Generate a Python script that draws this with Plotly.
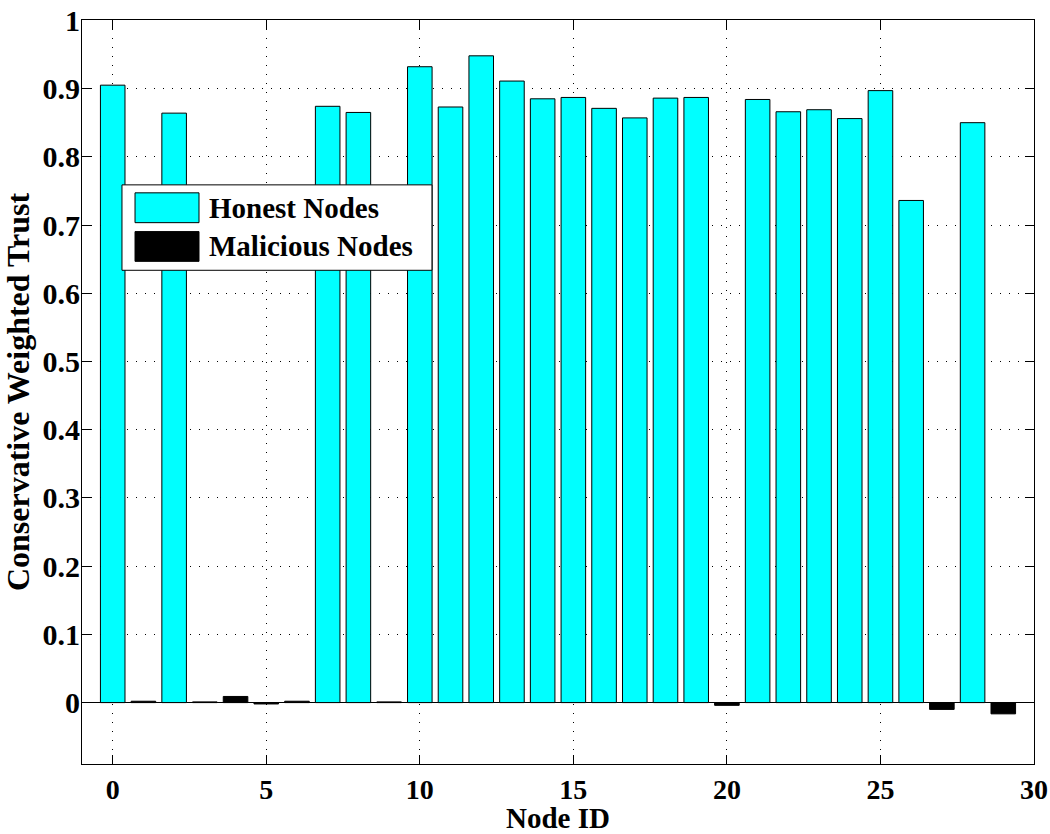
import plotly.graph_objects as go

# ---- data ----
honest_ids = [0, 2, 7, 8, 10, 11, 12, 13, 14, 15, 16, 17, 18, 19, 21, 22, 23, 24, 25, 26, 28]
honest_trust = [0.905, 0.864, 0.874, 0.865, 0.932, 0.873, 0.948, 0.911, 0.885, 0.887,
                0.871, 0.857, 0.886, 0.887, 0.884, 0.866, 0.869, 0.856, 0.897, 0.736, 0.850]
malicious_ids = [1, 3, 4, 5, 6, 9, 20, 27, 29]
malicious_trust = [0.002, 0.001, 0.009, -0.002, 0.002, 0.001, -0.004, -0.010, -0.0165]

x_ticks = [0, 5, 10, 15, 20, 25, 30]
y_ticks = [0, 0.1, 0.2, 0.3, 0.4, 0.5, 0.6, 0.7, 0.8, 0.9, 1.0]
y_ticktext = ["0", "0.1", "0.2", "0.3", "0.4", "0.5", "0.6", "0.7", "0.8", "0.9", "1"]
series_names = ["Honest Nodes", "Malicious Nodes"]
series_colors = ["#00FFFF", "#000000"]

FONT = "Liberation Serif, Times New Roman, serif"

fig = go.Figure()
fig.add_trace(go.Bar(x=honest_ids, y=honest_trust, name=series_names[0], width=0.8,
                     marker=dict(color=series_colors[0], line=dict(color="black", width=1)),
                     showlegend=False))
fig.add_trace(go.Bar(x=malicious_ids, y=malicious_trust, name=series_names[1], width=0.8,
                     marker=dict(color=series_colors[1], line=dict(color="black", width=1)),
                     showlegend=False))

axis_common = dict(
    showline=True, linecolor="black", linewidth=1, mirror="ticks",
    ticks="inside", ticklen=9, tickcolor="black", tickwidth=1,
    showgrid=True, gridcolor="black", gridwidth=1, griddash="1px,8px",
    automargin=False, ticklabeloverflow="allow",
)

fig.update_xaxes(range=[-1, 30], tickmode="array", tickvals=x_ticks,
                 tickfont=dict(family=FONT, size=28, color="black", weight="bold"),
                 title=dict(text="Node ID", standoff=4,
                            font=dict(family=FONT, size=29, color="black", weight="bold")),
                 zeroline=False, **axis_common)
fig.update_yaxes(range=[-0.09, 1.0005], tickmode="array", tickvals=y_ticks, ticktext=y_ticktext,
                 ticklabelstandoff=-5,
                 tickfont=dict(family=FONT, size=30, color="black", weight="bold"),
                 title=dict(text="Conservative Weighted Trust", standoff=4,
                            font=dict(family=FONT, size=32, color="black", weight="bold")),
                 zeroline=True, zerolinecolor="black", zerolinewidth=1, **axis_common)

# ---- legend box drawn in paper coordinates ----
lx0, lx1, ly0, ly1 = 0.042, 0.3676, 0.6636, 0.7784
fig.add_shape(type="rect", xref="paper", yref="paper", x0=lx0, x1=lx1, y0=ly0, y1=ly1,
              fillcolor="white", line=dict(color="black", width=1), layer="above")
sw_x0, sw_x1 = 0.0557, 0.1229
sw_rows = [(0.7276, 0.7677), (0.6756, 0.7156)]
for (y0, y1), name, col in zip(sw_rows, series_names, series_colors):
    fig.add_shape(type="rect", xref="paper", yref="paper", x0=sw_x0, x1=sw_x1, y0=y0, y1=y1,
                  fillcolor=col, line=dict(color="black", width=1), layer="above")
    fig.add_annotation(xref="paper", yref="paper", x=0.1313, y=(y0 + y1) / 2, text=name,
                       showarrow=False, xanchor="left", yanchor="middle",
                       font=dict(family=FONT, size=29, color="black", weight="bold"))

fig.update_layout(
    width=1050, height=834,
    margin=dict(l=82, r=16, t=20, b=70),
    paper_bgcolor="white", plot_bgcolor="white",
    barmode="overlay",
    font=dict(family=FONT, size=29, color="black", weight="bold"),
)

fig.write_html("out.html")
